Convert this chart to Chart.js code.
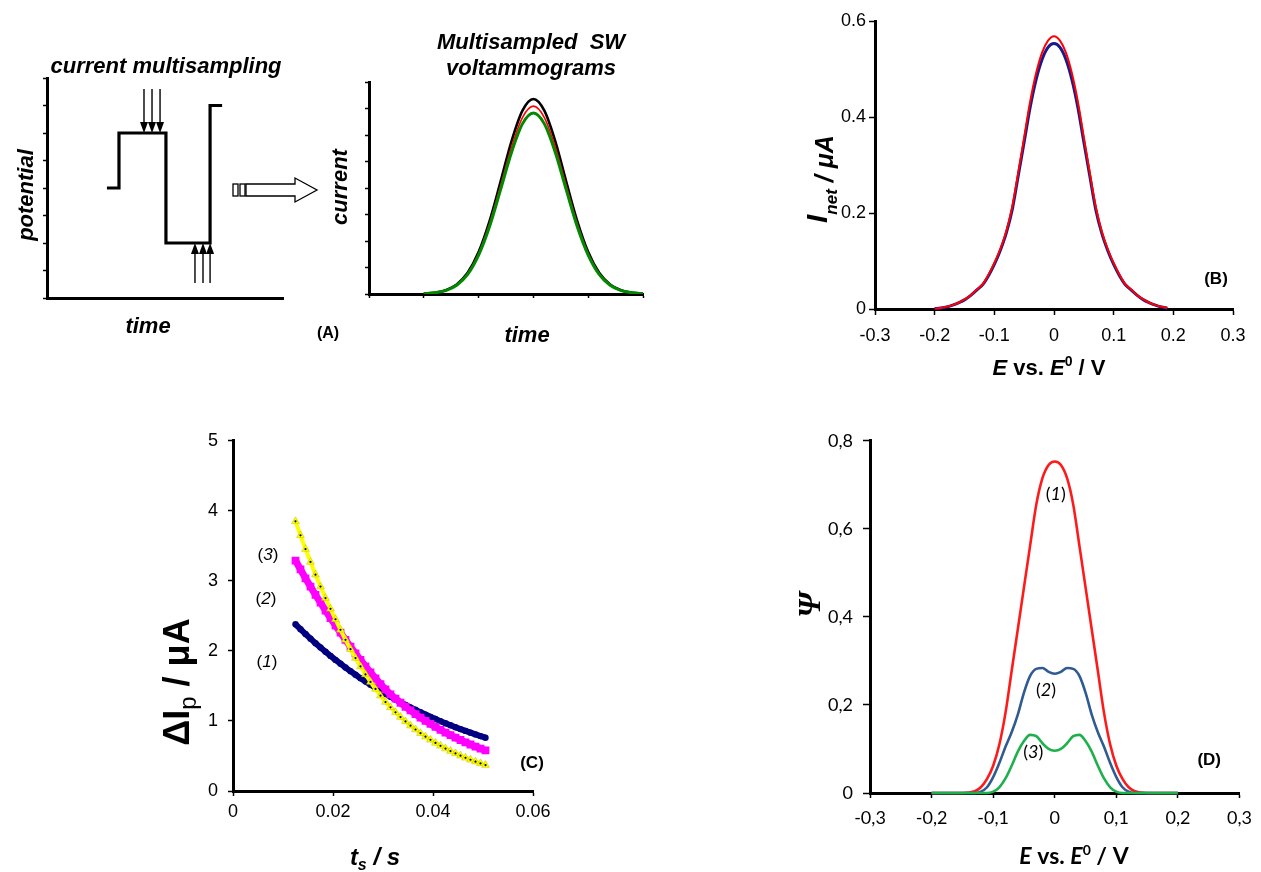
<!DOCTYPE html>
<html>
<head>
<meta charset="utf-8">
<script src="https://cdn.jsdelivr.net/npm/chart.js@4.4.0/dist/chart.umd.min.js"></script>
<style>
  body { margin: 0; background: #fff; width: 1261px; height: 872px; position: relative; overflow: hidden; }
  canvas { position: absolute; }
</style>
</head>
<body>
<canvas id="cA1" width="350" height="330" style="left:0px;top:30px"></canvas>
<canvas id="cA2" width="331" height="340" style="left:330px;top:20px"></canvas>
<canvas id="cB" width="481" height="380" style="left:780px;top:0px"></canvas>
<canvas id="cC" width="440" height="452" style="left:130px;top:420px"></canvas>
<canvas id="cD" width="481" height="452" style="left:780px;top:420px"></canvas>
<script>
// (A) potential waveform, arbitrary units
const waveT = [25.4, 30.5, 30.5, 50.4, 50.4, 69.1, 69.1, 74.2];
const waveE = [4, 4, 6, 6, 2, 2, 7, 7];
const sampleDownT = [41.1, 44.5, 47.9];
const sampleUpT = [62.7, 66.1, 69.1];

// (A) multisampled SW voltammograms, arbitrary units
const swTime = [1.0, 1.2, 1.4, 1.6, 1.8, 2.0, 2.2, 2.4, 2.6, 2.8, 3.0, 3.2, 3.4, 3.6, 3.8, 4.0, 4.2, 4.4, 4.6, 4.8, 5.0];
const swBlack = [0.02, 0.05, 0.14, 0.36, 0.80, 1.58, 2.75, 4.23, 5.76, 6.92, 7.36, 6.92, 5.76, 4.23, 2.75, 1.58, 0.80, 0.36, 0.14, 0.05, 0.02];
const swRed = [0.01, 0.05, 0.13, 0.35, 0.77, 1.52, 2.65, 4.08, 5.54, 6.66, 7.09, 6.66, 5.54, 4.08, 2.65, 1.52, 0.77, 0.35, 0.13, 0.05, 0.01];
const swGreen = [0.01, 0.05, 0.13, 0.33, 0.74, 1.47, 2.55, 3.93, 5.34, 6.42, 6.83, 6.42, 5.34, 3.93, 2.55, 1.47, 0.74, 0.33, 0.13, 0.05, 0.01];

// (B) net current vs E - E0
const bE = [-0.20, -0.19, -0.18, -0.17, -0.16, -0.15, -0.14, -0.13, -0.12, -0.11, -0.10, -0.09, -0.08, -0.07, -0.06, -0.05, -0.04, -0.03, -0.02, -0.01,
            0.00, 0.01, 0.02, 0.03, 0.04, 0.05, 0.06, 0.07, 0.08, 0.09, 0.10, 0.11, 0.12, 0.13, 0.14, 0.15, 0.16, 0.17, 0.18, 0.19];
const bRed = [0.001, 0.002, 0.005, 0.008, 0.013, 0.020, 0.028, 0.040, 0.051, 0.071, 0.096, 0.125, 0.162, 0.213, 0.284, 0.358, 0.432, 0.491, 0.534, 0.559,
              0.568, 0.559, 0.534, 0.491, 0.432, 0.358, 0.284, 0.213, 0.162, 0.125, 0.096, 0.071, 0.051, 0.040, 0.028, 0.020, 0.013, 0.008, 0.005, 0.002];
const bBlue = [0.001, 0.002, 0.004, 0.008, 0.013, 0.019, 0.028, 0.039, 0.050, 0.069, 0.093, 0.122, 0.158, 0.207, 0.277, 0.348, 0.420, 0.478, 0.520, 0.545,
               0.553, 0.545, 0.520, 0.478, 0.420, 0.348, 0.277, 0.207, 0.158, 0.122, 0.093, 0.069, 0.050, 0.039, 0.028, 0.019, 0.013, 0.008, 0.004, 0.002];

// (C) peak current vs sampling time
const cT = [0.0125, 0.0135, 0.0145, 0.0155, 0.0165, 0.0175, 0.0185, 0.0195, 0.0205, 0.0215, 0.0225, 0.0235, 0.0245, 0.0255, 0.0265, 0.0275, 0.0285, 0.0295, 0.0305, 0.0315,
            0.0325, 0.0335, 0.0345, 0.0355, 0.0365, 0.0375, 0.0385, 0.0395, 0.0405, 0.0415, 0.0425, 0.0435, 0.0445, 0.0455, 0.0465, 0.0475, 0.0485, 0.0495, 0.0505];
const cSeries1 = [2.38, 2.31, 2.241, 2.175, 2.111, 2.048, 1.988, 1.929, 1.872, 1.817, 1.763, 1.711, 1.66, 1.611, 1.564, 1.518, 1.473, 1.429, 1.387, 1.346,
                  1.306, 1.268, 1.23, 1.194, 1.159, 1.124, 1.091, 1.059, 1.027, 0.997, 0.968, 0.939, 0.911, 0.884, 0.858, 0.833, 0.808, 0.784, 0.761];
const cSeries2 = [3.29, 3.163, 3.037, 2.918, 2.8, 2.688, 2.575, 2.469, 2.362, 2.26, 2.158, 2.06, 1.966, 1.871, 1.78, 1.692, 1.608, 1.527, 1.45, 1.38,
                  1.319, 1.26, 1.203, 1.15, 1.098, 1.049, 1.002, 0.957, 0.915, 0.874, 0.835, 0.797, 0.762, 0.728, 0.695, 0.664, 0.635, 0.606, 0.579];
const cSeries3 = [3.85, 3.65, 3.454, 3.27, 3.089, 2.919, 2.755, 2.601, 2.452, 2.301, 2.159, 2.025, 1.898, 1.778, 1.665, 1.558, 1.457, 1.361, 1.27, 1.194,
                  1.123, 1.056, 0.993, 0.933, 0.878, 0.825, 0.776, 0.73, 0.686, 0.645, 0.606, 0.57, 0.536, 0.504, 0.474, 0.446, 0.419, 0.394, 0.37];

// (D) Psi vs E - E0
const dE = [-0.20, -0.19, -0.18, -0.17, -0.16, -0.15, -0.14, -0.13, -0.12, -0.11, -0.10, -0.09, -0.08, -0.07, -0.06, -0.05, -0.04, -0.03, -0.02, -0.01,
            0.00, 0.01, 0.02, 0.03, 0.04, 0.05, 0.06, 0.07, 0.08, 0.09, 0.10, 0.11, 0.12, 0.13, 0.14, 0.15, 0.16, 0.17, 0.18, 0.19, 0.20];
const dPsi1 = [0, 0, 0, 0, 0, 0, 0.001, 0.004, 0.013, 0.032, 0.062, 0.11, 0.182, 0.277, 0.372, 0.467, 0.562, 0.655, 0.715, 0.745,
               0.753, 0.745, 0.715, 0.655, 0.562, 0.467, 0.372, 0.277, 0.182, 0.11, 0.062, 0.032, 0.013, 0.004, 0.001, 0, 0, 0, 0, 0, 0];
const dPsi2 = [0, 0, 0, 0, 0, 0, 0, 0, 0.003, 0.013, 0.036, 0.068, 0.105, 0.138, 0.178, 0.228, 0.266, 0.282, 0.284, 0.275,
               0.271, 0.275, 0.284, 0.282, 0.266, 0.228, 0.178, 0.138, 0.105, 0.068, 0.036, 0.013, 0.003, 0, 0, 0, 0, 0, 0, 0, 0];
const dPsi3 = [0, 0, 0, 0, 0, 0, 0, 0, 0, 0, 0.003, 0.013, 0.033, 0.062, 0.094, 0.118, 0.132, 0.129, 0.113, 0.1,
               0.096, 0.1, 0.113, 0.129, 0.132, 0.118, 0.094, 0.062, 0.033, 0.013, 0.003, 0, 0, 0, 0, 0, 0, 0, 0, 0, 0];

const SANS = "'Liberation Sans', Arial, sans-serif";
const NARROW = "'Liberation Sans Narrow', 'Liberation Sans', Arial, sans-serif";
const CAL = "Lato, 'Open Sans', sans-serif";

const pts = (xs, ys) => xs.map((x, i) => ({ x, y: ys[i] }));

function axis(o) {
  return {
    type: 'linear',
    position: o.pos,
    min: o.min,
    max: o.max,
    border: { display: true, color: '#000', width: 3 },
    grid: { drawOnChartArea: false, drawTicks: o.tick > 0, tickLength: o.tick, tickColor: '#000', tickWidth: 1.5, color: '#000' },
    ticks: {
      display: !!o.fmt, stepSize: o.step, padding: o.pad || 0, color: '#000', font: o.font,
      callback: o.fmt, autoSkip: false, maxRotation: 0
    },
    afterFit: s => { if (o.pos === 'left') s.width = o.size; else s.height = o.size; }
  };
}

// text helper: parts = [[text, font, dy]], baseline at (x, y); rotated reads bottom to top
function rich(ctx, x, y, parts, rot, anchor) {
  ctx.save();
  ctx.translate(x, y);
  if (rot) ctx.rotate(-Math.PI / 2);
  ctx.textBaseline = 'alphabetic';
  ctx.textAlign = 'left';
  ctx.fillStyle = '#000';
  let w = 0;
  parts.forEach(p => { ctx.font = p[1]; w += ctx.measureText(p[0]).width; });
  let cx = anchor === 'start' ? 0 : -w / 2;
  parts.forEach(p => {
    ctx.font = p[1];
    ctx.fillText(p[0], cx, p[2] || 0);
    cx += ctx.measureText(p[0]).width;
  });
  ctx.restore();
}

function arrow(ctx, x, y0, y1) {
  const dir = y1 > y0 ? 1 : -1;
  ctx.beginPath();
  ctx.moveTo(x, y0);
  ctx.lineTo(x, y1 - dir * 9);
  ctx.stroke();
  ctx.beginPath();
  ctx.moveTo(x, y1);
  ctx.lineTo(x - 4, y1 - dir * 11);
  ctx.lineTo(x + 4, y1 - dir * 11);
  ctx.closePath();
  ctx.fill();
}

function baseOptions(pad, scales) {
  return {
    responsive: false,
    animation: false,
    devicePixelRatio: 1,
    layout: { padding: pad },
    plugins: { legend: { display: false }, tooltip: { enabled: false } },
    elements: { point: { radius: 0 } },
    scales
  };
}

const fmt1 = v => Math.abs(v) < 1e-9 ? '0' : v.toFixed(1);
const fmtComma = v => Math.abs(v) < 1e-9 ? '0' : v.toFixed(1).replace('.', ',');

// ---------- (A) left: potential waveform ----------
new Chart(document.getElementById('cA1'), {
  type: 'line',
  data: {
    datasets: [{
      data: pts(waveT, waveE), borderColor: '#000', borderWidth: 3.2, tension: 0,
      borderJoinStyle: 'miter', borderCapStyle: 'butt', pointRadius: 0
    }]
  },
  options: baseOptions({ left: 27, right: 67, top: 48, bottom: 52 }, {
    x: axis({ pos: 'bottom', min: 0, max: 100, step: 10, tick: 0, size: 10 }),
    y: axis({ pos: 'left', min: 0, max: 8, step: 1, tick: 4, size: 20 })
  }),
  plugins: [{
    id: 'decoA1',
    afterDraw(chart) {
      const ctx = chart.ctx, xs = chart.scales.x, ys = chart.scales.y;
      const oy = 30;
      ctx.save();
      ctx.strokeStyle = '#000'; ctx.fillStyle = '#000'; ctx.lineWidth = 1.4;
      sampleDownT.forEach(t => arrow(ctx, xs.getPixelForValue(t), ys.getPixelForValue(7.6), ys.getPixelForValue(6)));
      sampleUpT.forEach(t => arrow(ctx, xs.getPixelForValue(t), ys.getPixelForValue(0.55), ys.getPixelForValue(2)));
      // hollow transfer arrow
      const ay = ys.getPixelForValue(4) + 2;
      const ax = chart.chartArea.right - 50;
      ctx.lineWidth = 1.3;
      ctx.beginPath();
      ctx.moveTo(ax + 13, ay - 6);
      ctx.lineTo(ax + 62, ay - 6);
      ctx.lineTo(ax + 62, ay - 12);
      ctx.lineTo(ax + 84, ay);
      ctx.lineTo(ax + 62, ay + 12);
      ctx.lineTo(ax + 62, ay + 6);
      ctx.lineTo(ax + 13, ay + 6);
      ctx.closePath();
      ctx.stroke();
      ctx.strokeRect(ax, ay - 6, 5, 12);
      ctx.strokeRect(ax + 7, ay - 6, 5, 12);
      ctx.restore();
      rich(ctx, 166, 73 - oy, [['current multisampling', 'italic bold 22px ' + SANS]]);
      rich(ctx, 33, 195 - oy, [['potential', 'italic bold 22px ' + SANS]], true);
      rich(ctx, 148, 333 - oy, [['time', 'italic bold 22px ' + SANS]]);
      rich(ctx, 328, 338 - oy, [['(A)', 'bold 16px ' + SANS]]);
    }
  }]
});

// ---------- (A) right: multisampled voltammograms ----------
new Chart(document.getElementById('cA2'), {
  type: 'line',
  data: {
    datasets: [
      { data: pts(swTime, swBlack), borderColor: '#000', borderWidth: 2.6, cubicInterpolationMode: 'monotone', order: 2 },
      { data: pts(swTime, swRed), borderColor: '#ff0000', borderWidth: 1.6, cubicInterpolationMode: 'monotone', order: 1 },
      { data: pts(swTime, swGreen), borderColor: '#008a00', borderWidth: 3, cubicInterpolationMode: 'monotone', order: 0 }
    ]
  },
  options: baseOptions({ left: 29, right: 18, top: 62, bottom: 56 }, {
    x: axis({ pos: 'bottom', min: 0, max: 5, step: 1, tick: 4, size: 10 }),
    y: axis({ pos: 'left', min: 0, max: 8, step: 1, tick: 4, size: 10 })
  }),
  plugins: [{
    id: 'decoA2',
    afterDraw(chart) {
      const ctx = chart.ctx, ox = 330, oy = 20;
      rich(ctx, 531 - ox, 49 - oy, [['Multisampled  SW', 'italic bold 22px ' + SANS]]);
      rich(ctx, 531 - ox, 75 - oy, [['voltammograms', 'italic bold 22px ' + SANS]]);
      rich(ctx, 347 - ox, 187 - oy, [['current', 'italic bold 22px ' + SANS]], true);
      rich(ctx, 527 - ox, 342 - oy, [['time', 'italic bold 22px ' + SANS]]);
    }
  }]
});

// ---------- (B) ----------
new Chart(document.getElementById('cB'), {
  type: 'line',
  data: {
    datasets: [
      { data: pts(bE, bBlue), borderColor: '#1a1a8c', borderWidth: 3, cubicInterpolationMode: 'monotone', order: 1, clip: false },
      { data: pts(bE, bRed), borderColor: '#ff0000', borderWidth: 2, cubicInterpolationMode: 'monotone', order: 0, clip: false }
    ]
  },
  options: baseOptions({ left: 55, right: 28, top: 21, bottom: 29 }, {
    x: axis({ pos: 'bottom', min: -0.3, max: 0.3, step: 0.1, tick: 6, size: 42, pad: 10, fmt: fmt1, font: { family: NARROW, size: 18 } }),
    y: axis({ pos: 'left', min: 0, max: 0.6, step: 0.2, tick: 6, size: 40, pad: 3, fmt: fmt1, font: { family: NARROW, size: 18 } })
  }),
  plugins: [{
    id: 'decoB',
    afterDraw(chart) {
      const ctx = chart.ctx, ox = 780, oy = 0;
      rich(ctx, 827 - ox, 223 - oy, [
        ['I', 'italic bold 30px ' + SANS, 0],
        ['net', 'italic bold 17px ' + SANS, 10],
        [' / \u03bcA', 'italic bold 25px ' + SANS, 6]
      ], true, 'start');
      rich(ctx, 1049 - ox, 375 - oy, [
        ['E', 'italic bold 22px ' + SANS, 0],
        [' vs. ', 'bold 22px ' + SANS, 0],
        ['E', 'italic bold 22px ' + SANS, 0],
        ['0', 'bold 14px ' + SANS, -9],
        [' / V', 'bold 22px ' + SANS, 0]
      ]);
      const xs = chart.scales.x, ys = chart.scales.y;
      rich(ctx, xs.getPixelForValue(0.2715), ys.getPixelForValue(0.0646) + 6, [['(B)', 'bold 17px ' + SANS]]);
    }
  }]
});

// ---------- (C) ----------
new Chart(document.getElementById('cC'), {
  type: 'line',
  data: {
    datasets: [
      { data: pts(cT, cSeries1), borderColor: '#000080', borderWidth: 6, pointRadius: 3.2, pointStyle: 'circle',
        pointBackgroundColor: '#000080', pointBorderWidth: 0, order: 3 },
      { data: pts(cT, cSeries2), borderColor: '#ff00ff', borderWidth: 7, pointRadius: 5.5, pointStyle: 'rect',
        pointBackgroundColor: '#ff00ff', pointBorderWidth: 0, order: 2 },
      { data: pts(cT, cSeries3), borderColor: '#ffff00', borderWidth: 4, pointRadius: 4.5, pointStyle: 'triangle',
        pointBackgroundColor: '#ffff00', pointBorderColor: '#c8c800', pointBorderWidth: 0.6, order: 1 },
      { data: pts(cT, cSeries3), showLine: false, pointRadius: 1.1, pointBackgroundColor: '#000', pointBorderWidth: 0, order: 0 }
    ]
  },
  options: baseOptions({ left: 63, right: 37, top: 16, bottom: 46 }, {
    x: axis({ pos: 'bottom', min: 0, max: 0.06, step: 0.02, tick: 5, size: 35, pad: 5,
              fmt: v => Math.abs(v) < 1e-9 ? '0' : v.toFixed(2), font: { family: SANS, size: 18 } }),
    y: axis({ pos: 'left', min: 0, max: 5, step: 1, tick: 5, size: 40, pad: 10,
              fmt: v => String(Math.round(v)), font: { family: SANS, size: 18 } })
  }),
  plugins: [{
    id: 'decoC',
    afterDraw(chart) {
      const ctx = chart.ctx, ox = 130, oy = 420;
      const xs = chart.scales.x, ys = chart.scales.y;
      rich(ctx, 189 - ox, 682 - oy, [
        ['\u0394I', 'bold 36px ' + SANS, 0],
        ['p', '24px ' + SANS, 7],
        [' / \u03bcA', 'bold 36px ' + SANS, 0]
      ], true);
      rich(ctx, 375 - ox, 865 - oy, [
        ['t', 'italic bold 24px ' + SANS, 0],
        ['s', 'italic bold 16px ' + SANS, 5],
        [' / s', 'italic bold 24px ' + SANS, 0]
      ]);
      const lab = (n, t, v) => rich(ctx, xs.getPixelForValue(t), ys.getPixelForValue(v) + 6, [
        ['(', '17px ' + SANS], [n, 'italic 17px ' + SANS], [')', '17px ' + SANS]
      ]);
      lab('3', 0.007, 3.38);
      lab('2', 0.0066, 2.75);
      lab('1', 0.0068, 1.86);
      rich(ctx, xs.getPixelForValue(0.0598), ys.getPixelForValue(0.42) + 6, [['(C)', 'bold 17px ' + SANS]]);
    }
  }]
});

// ---------- (D) ----------
new Chart(document.getElementById('cD'), {
  type: 'line',
  data: {
    datasets: [
      { data: pts(dE, dPsi1), borderColor: '#ff1a1a', borderWidth: 2.6, cubicInterpolationMode: 'monotone', order: 2, clip: false },
      { data: pts(dE, dPsi2), borderColor: '#2f5b91', borderWidth: 2.6, cubicInterpolationMode: 'monotone', order: 1, clip: false },
      { data: pts(dE, dPsi3), borderColor: '#1db04c', borderWidth: 2.6, cubicInterpolationMode: 'monotone', order: 0, clip: false }
    ]
  },
  options: baseOptions({ left: 40, right: 13, top: 19, bottom: 44 }, {
    x: axis({ pos: 'bottom', min: -0.3, max: 0.3, step: 0.1, tick: 5, size: 35, pad: 9, fmt: fmtComma, font: { family: CAL, size: 18 } }),
    y: axis({ pos: 'left', min: 0, max: 0.8, step: 0.2, tick: 7, size: 50, pad: 10, fmt: fmtComma, font: { family: CAL, size: 18 } })
  }),
  plugins: [{
    id: 'decoD',
    afterDraw(chart) {
      const ctx = chart.ctx, ox = 780, oy = 420;
      const xs = chart.scales.x, ys = chart.scales.y;
      rich(ctx, 820 - ox, 605 - oy, [['\u03a8', "italic bold 32px 'Liberation Serif', serif"]], true);
      rich(ctx, 1074 - ox, 864 - oy, [
        ['E', 'italic bold 23px ' + CAL, 0],
        [' vs. ', 'bold 23px ' + CAL, 0],
        ['E', 'italic bold 23px ' + CAL, 0],
        ['0', 'bold 14px ' + CAL, -9],
        [' / V', 'bold 23px ' + CAL, 0]
      ]);
      const lab = (n, e, v) => rich(ctx, xs.getPixelForValue(e), ys.getPixelForValue(v) + 6, [
        ['(', '18px ' + CAL], [n, 'italic 18px ' + CAL], [')', '18px ' + CAL]
      ]);
      lab('1', 0.0016, 0.68);
      lab('2', -0.0143, 0.235);
      lab('3', -0.0349, 0.0927);
      rich(ctx, xs.getPixelForValue(0.2508), ys.getPixelForValue(0.077) + 6, [['(D)', 'bold 17px ' + SANS]]);
    }
  }]
});
</script>
</body>
</html>
